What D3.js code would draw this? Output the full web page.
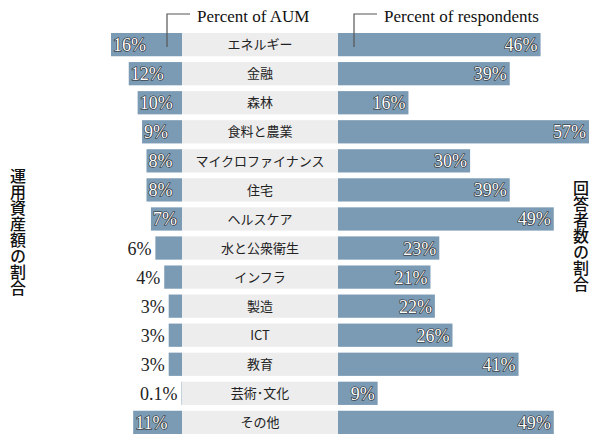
<!DOCTYPE html>
<html><head><meta charset="utf-8">
<script src="https://cdn.jsdelivr.net/npm/d3@7"></script>
<style>body{margin:0;background:#fff}</style></head>
<body><svg id="chart" width="600" height="443"></svg>
<script>
const categories = ['エネルギー','金融','森林','食料と農業','マイクロファイナンス','住宅','ヘルスケア','水と公衆衛生','インフラ','製造','ICT','教育','芸術･文化','その他'];
const aumValues = [16, 12, 10, 9, 8, 8, 7, 6, 4, 3, 3, 3, 0.1, 11];
const aumLabels = ['16%','12%','10%','9%','8%','8%','7%','6%','4%','3%','3%','3%','0.1%','11%'];
const respValues = [46, 39, 16, 57, 30, 39, 49, 23, 21, 22, 26, 41, 9, 49];

const svg = d3.select('#chart');
const barColor = '#7b9bb5';
const serif = '"Liberation Serif", "DejaVu Serif", serif';
const cjk = '"Noto Sans CJK JP", sans-serif';

const y = d3.scaleBand().domain(categories).range([33, 434]).paddingInner(0.2).paddingOuter(0);
const xLeft = d3.scaleLinear().domain([0, 16]).range([182, 111]);
const xRight = d3.scaleLinear().domain([0, 57]).range([338, 589]);

// center label background
svg.selectAll('.cat-bg').data(categories).enter()
  .append('rect').attr('class', 'cat-bg')
  .attr('x', 182).attr('width', 156)
  .attr('y', d => y(d)).attr('height', y.bandwidth())
  .attr('fill', '#ededed');

svg.selectAll('.cat-label').data(categories).enter()
  .append('text').attr('class', 'cat-label')
  .attr('x', 260).attr('y', d => y(d) + y.bandwidth() / 2)
  .attr('dy', '0.36em').attr('text-anchor', 'middle')
  .attr('font-family', cjk).attr('font-size', 13).attr('fill', '#222')
  .text(d => d);

// left bars (percent of AUM)
svg.selectAll('.aum-bar').data(aumValues).enter()
  .append('rect').attr('class', 'aum-bar')
  .attr('x', d => xLeft(d)).attr('width', d => xLeft(0) - xLeft(d))
  .attr('y', (d, i) => y(categories[i])).attr('height', y.bandwidth())
  .attr('fill', barColor);

svg.selectAll('.aum-label').data(aumValues).enter()
  .append('text').attr('class', 'aum-label')
  .attr('x', d => d >= 7 ? xLeft(d) + 2 : xLeft(d) - 4)
  .attr('y', (d, i) => y(categories[i]) + y.bandwidth() / 2)
  .attr('dy', '0.36em')
  .attr('text-anchor', d => d >= 7 ? 'start' : 'end')
  .attr('font-family', serif).attr('font-size', 18)
  .attr('fill', d => d >= 7 ? '#fff' : '#222')
  .attr('stroke', d => d >= 7 ? '#222' : 'none').attr('stroke-width', 1.2)
  .attr('paint-order', 'stroke')
  .text((d, i) => aumLabels[i]);

// right bars (percent of respondents)
svg.selectAll('.resp-bar').data(respValues).enter()
  .append('rect').attr('class', 'resp-bar')
  .attr('x', xRight(0)).attr('width', d => xRight(d) - xRight(0))
  .attr('y', (d, i) => y(categories[i])).attr('height', y.bandwidth())
  .attr('fill', barColor);

svg.selectAll('.resp-label').data(respValues).enter()
  .append('text').attr('class', 'resp-label')
  .attr('x', d => xRight(d) - 3)
  .attr('y', (d, i) => y(categories[i]) + y.bandwidth() / 2)
  .attr('dy', '0.36em').attr('text-anchor', 'end')
  .attr('font-family', serif).attr('font-size', 18)
  .attr('fill', '#fff').attr('stroke', '#222').attr('stroke-width', 1.2)
  .attr('paint-order', 'stroke')
  .text(d => d + '%');

// headers with bracket lines
const headers = [{x: 167, text: 'Percent of AUM'}, {x: 354, text: 'Percent of respondents'}];
headers.forEach(h => {
  svg.append('path')
    .attr('d', `M${h.x},47V14H${h.x + 23}`)
    .attr('fill', 'none').attr('stroke', '#555').attr('stroke-width', 1.2);
  svg.append('text').attr('x', h.x + 30).attr('y', 22)
    .attr('font-family', serif).attr('font-size', 17).attr('fill', '#111')
    .text(h.text);
});

// vertical side titles
function sideTitle(x, yc, text) {
  svg.append('text').attr('x', x).attr('y', yc)
    .attr('text-anchor', 'middle')
    .attr('writing-mode', 'vertical-rl')
    .attr('font-family', cjk).attr('font-size', 16).attr('font-weight', 500)
    .attr('fill', '#111').text(text);
}
sideTitle(18, 232, '運用資産額の割合');
sideTitle(581, 236, '回答者数の割合');
</script></body></html>
